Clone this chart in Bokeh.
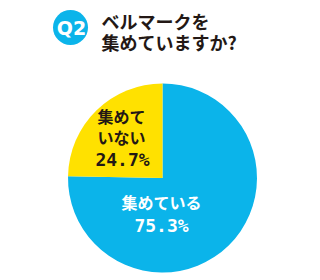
import math
from bokeh.plotting import figure
from bokeh.models import Range1d, ColumnDataSource
from bokeh.core.properties import value
from bokeh.embed import file_html
from bokeh.resources import INLINE

# data
categories = ["集めている", "集めていない"]
label_lines = [["集めている"], ["集めて", "いない"]]
percents = [75.3, 24.7]
colors = ["#0bb4ea", "#ffe100"]
title_lines = ["ベルマークを", "集めていますか?"]
badge_text = "Q2"

W, H = 320, 280
FONT = "Noto Sans CJK JP"
NUMFONT = "DejaVu Sans Mono"

def Y(y):
    return H - y

p = figure(width=W, height=H, x_range=Range1d(0, W), y_range=Range1d(0, H),
           output_backend="svg", toolbar_location=None, min_border=0)
p.axis.visible = False
p.grid.visible = False
p.outline_line_color = None
p.background_fill_color = "white"
p.border_fill_color = "white"

# pie: blue clockwise from 12 o'clock, yellow anticlockwise from 12 o'clock
cx, cy, r = 162, Y(177.5), 94.5
total = sum(percents)
a_blue = percents[0] / total * 2 * math.pi
a_yel = percents[1] / total * 2 * math.pi
starts = [math.pi / 2 - a_blue, math.pi / 2]
ends = [math.pi / 2, math.pi / 2 + a_yel]
src = ColumnDataSource(dict(x=[cx] * 2, y=[cy] * 2, start=starts, end=ends, color=colors))
p.wedge(x="x", y="y", radius=r, start_angle="start", end_angle="end",
        fill_color="color", line_color=None, source=src)

# blue label
p.text(x=[161], y=[Y(201.5)], text=[label_lines[0][0]],
       text_font=value(FONT), text_font_style="bold", text_font_size="16px",
       text_color="white", text_align="center", text_baseline="middle")
p.text(x=[161], y=[Y(225)], text=[f"{percents[0]}%"],
       text_font=value(NUMFONT), text_font_style="bold", text_font_size="18px",
       text_color="white", text_align="center", text_baseline="middle")
# yellow label
p.text(x=[121, 121], y=[Y(115), Y(136.5)], text=label_lines[1],
       text_font=value(FONT), text_font_style="bold", text_font_size="16px",
       text_color="#231815", text_align="center", text_baseline="middle")
p.text(x=[122], y=[Y(158.5)], text=[f"{percents[1]}%"],
       text_font=value(NUMFONT), text_font_style="bold", text_font_size="18px",
       text_color="#231815", text_align="center", text_baseline="middle")

# badge
p.scatter(x=[70], y=[Y(27)], size=35, marker="circle", fill_color="#0bb4ea", line_color=None)
p.text(x=[71], y=[Y(27.5)], text=[badge_text], text_font=value("DejaVu Sans"), text_font_style="bold",
       text_font_size="19px", text_color="white", text_align="center", text_baseline="middle")

# title
p.text(x=[101, 101], y=[Y(20.5), Y(41.5)], text=title_lines, text_font=value(FONT),
       text_font_style="bold", text_font_size="18px", text_color="#231815",
       text_align="left", text_baseline="middle")

open("out.html", "w").write(file_html(p, INLINE))
